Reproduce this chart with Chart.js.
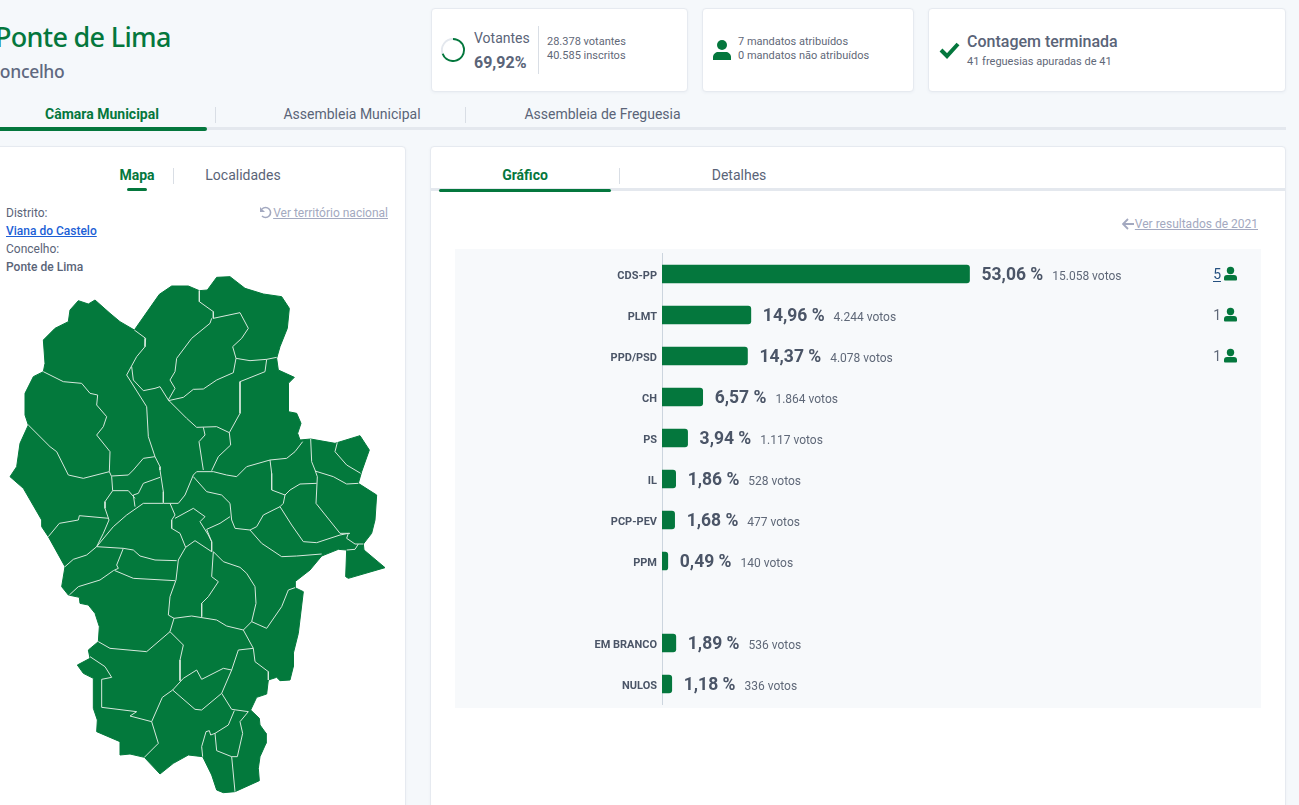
<!DOCTYPE html>
<html lang="pt">
<head>
<meta charset="utf-8">
<title>Ponte de Lima</title>
<script src="https://cdn.jsdelivr.net/npm/chart.js@4"></script>
<style>
  html, body { margin: 0; padding: 0; }
  body { width: 1299px; height: 805px; position: relative; overflow: hidden; background: #f5f8fb; font-family: Roboto, sans-serif; color: #5a6478; }
  .abs, canvas { position: absolute; }
  .abs { white-space: nowrap; line-height: 1; }
  .card { position: absolute; background: #fff; border: 1px solid #e6eaf0; border-radius: 4px; box-sizing: border-box; box-shadow: 0 1px 3px rgba(60,80,110,.05); }
  .small { font-size: 11px; color: #5f6878; }
  .green { color: #04773d; font-weight: 700; }
  .tab { font-size: 14px; transform: translateX(-50%); }
  .div { position: absolute; width: 1px; background: #d9dee5; }
  .bar { position: absolute; }
  a { text-decoration: underline; }
</style>
</head>
<body>
<div class="abs" style="left:-5px;top:18px;font:500 27px 'Noto Sans';color:#04773d;letter-spacing:-.7px">Ponte de Lima</div>
<div class="abs" style="left:-11px;top:59px;font:500 17.5px 'Noto Sans';color:#5f6880;letter-spacing:-.3px">Concelho</div>

<div class="card" style="left:431px;top:8px;width:257px;height:84px"></div>
<div class="card" style="left:702px;top:8px;width:212px;height:84px"></div>
<div class="card" style="left:928px;top:8px;width:358px;height:84px"></div>

<canvas id="turnoutGauge" width="24" height="24" style="left:441px;top:38px"></canvas>
<div class="abs" style="left:474px;top:31px;font-size:14px">Votantes</div>
<div class="abs" style="left:474px;top:55px;font-size:16px;font-weight:700">69,92%</div>
<div class="div" style="left:538px;top:26px;height:48px"></div>
<div class="abs small" style="left:547px;top:36px">28.378 votantes</div>
<div class="abs small" style="left:547px;top:50px">40.585 inscritos</div>

<svg class="abs" style="left:713px;top:40px" width="18" height="20" viewBox="0 0 18 20"><circle cx="9" cy="5" r="5" fill="#04773d"/><path d="M0 20v-3c0-3 3-5 5-5h8c2 0 5 2 5 5v3z" fill="#04773d"/></svg>
<div class="abs small" style="left:738px;top:36px">7 mandatos atribuídos</div>
<div class="abs small" style="left:738px;top:50px">0 mandatos não atribuídos</div>

<svg class="abs" style="left:939px;top:41px" width="21" height="18" viewBox="0 0 21 18"><path d="M2 9l6 6L19 3" fill="none" stroke="#04773d" stroke-width="4"/></svg>
<div class="abs" style="left:967px;top:34px;font-size:16px;font-weight:500">Contagem terminada</div>
<div class="abs small" style="left:967px;top:56px">41 freguesias apuradas de 41</div>

<div class="abs tab green" style="left:102px;top:107px">Câmara Municipal</div>
<div class="div" style="left:215px;top:107px;height:16px"></div>
<div class="abs tab" style="left:352px;top:107px">Assembleia Municipal</div>
<div class="div" style="left:465px;top:107px;height:16px"></div>
<div class="abs tab" style="left:602.5px;top:107px">Assembleia de Freguesia</div>
<div class="bar" style="left:0;top:127px;width:1286px;height:3px;background:#e4e8ee"></div>
<div class="bar" style="left:0;top:127px;width:207px;height:4px;background:#04773d;border-radius:0 2px 2px 0"></div>

<div class="card" style="left:-10px;top:146px;width:416px;height:700px"></div>
<div class="abs tab green" style="left:137px;top:168px">Mapa</div>
<div class="div" style="left:173px;top:168px;height:16px"></div>
<div class="abs tab" style="left:243px;top:168px">Localidades</div>
<div class="bar" style="left:127px;top:188px;width:20px;height:3px;background:#04773d;border-radius:2px"></div>
<div class="abs" style="left:6px;top:207px;font-size:12px">Distrito:</div>
<a class="abs" style="left:6px;top:225px;font-size:12px;font-weight:500;color:#1d5fd6">Viana do Castelo</a>
<div class="abs" style="left:6px;top:243px;font-size:12px">Concelho:</div>
<div class="abs" style="left:6px;top:261px;font-size:12px;font-weight:500">Ponte de Lima</div>
<svg class="abs" style="left:259px;top:206px" width="13" height="13" viewBox="0 0 13 13"><path d="M3 3a5 5 0 1 1 0 7" fill="none" stroke="#a3a9c0" stroke-width="1.6"/><path d="M1 1v5h5z" fill="#a3a9c0"/></svg>
<a class="abs" style="right:911px;top:207px;font-size:12px;color:#a3a9c0">Ver território nacional</a>
<canvas id="mapChart" width="405" height="535" style="left:0;top:270px"></canvas>

<div class="card" style="left:430px;top:146px;width:856px;height:700px"></div>
<div class="abs tab green" style="left:525px;top:168px">Gráfico</div>
<div class="div" style="left:619px;top:168px;height:16px"></div>
<div class="abs tab" style="left:739px;top:168px">Detalhes</div>
<div class="bar" style="left:431px;top:188px;width:854px;height:3px;background:#e4e8ee"></div>
<div class="bar" style="left:439px;top:189px;width:172px;height:3px;background:#04773d;border-radius:2px"></div>
<svg class="abs" style="left:1122px;top:218px" width="12" height="12" viewBox="0 0 12 12"><path d="M6 1L1 6l5 5M1 6h11" fill="none" stroke="#a3a9c0" stroke-width="1.8"/></svg>
<a class="abs" style="right:41px;top:218px;font-size:12px;color:#a3a9c0">Ver resultados de 2021</a>

<div class="bar" style="left:455px;top:249px;width:806px;height:459px;background:#f7f9fb"></div>
<canvas id="resultsChart" width="806" height="459" style="left:455px;top:249px"></canvas>

<script>
const parties = ["CDS-PP", "PLMT", "PPD/PSD", "CH", "PS", "IL", "PCP-PEV", "PPM", "", "EM BRANCO", "NULOS"];
const percents = [53.06, 14.96, 14.37, 6.57, 3.94, 1.86, 1.68, 0.49, null, 1.89, 1.18];
const votes = ["15.058", "4.244", "4.078", "1.864", "1.117", "528", "477", "140", "", "536", "336"];
const mandates = [5, 1, 1, null, null, null, null, null, null, null, null];
const turnout = [69.92, 30.08];

// map, in map units (1/3 px)
const mapOutline = [
  [403,540],[478,433],[515,408],[565,408],[598,422],[622,420],[650,382],[690,380],[735,415],[790,432],[845,440],[868,475],[862,535],[840,590],[830,625],[835,660],[883,682],[865,700],[865,785],[890,790],[903,820],[893,850],[900,870],[932,867],[1005,880],[1080,857],[1108,900],[1085,965],
  [1075,1000],[1130,1035],[1125,1110],[1115,1150],[1090,1182],[1092,1200],[1155,1253],[1045,1285],[1037,1280],[1040,1200],[1015,1198],[965,1218],[930,1260],[885,1295],[885,1313],[910,1325],[895,1450],[880,1510],[880,1550],[870,1590],[840,1592],[830,1582],[805,1590],[800,1632],[770,1642],[752,1680],[778,1705],[780,1725],[798,1750],[798,1780],[780,1820],[775,1855],[778,1892],[705,1925],[670,1928],[650,1920],[635,1875],[608,1820],[565,1815],[520,1840],[480,1872],[433,1822],[390,1812],[360,1815],[360,1775],[290,1745],[292,1710],[280,1675],[280,1585],[250,1570],[232,1545],[270,1525],[265,1500],[295,1475],[298,1430],[285,1390],[265,1365],[240,1360],[238,1342],[205,1335],[185,1310],[195,1250],[145,1160],[125,1130],[125,1110],[70,1015],[30,980],
  [50,950],[60,880],[85,825],[75,795],[75,730],[100,680],[130,665],[135,640],[130,570],[165,535],[205,515],[210,480],[235,452],[265,462],[285,450],[330,490],[360,515],[403,540]
];
const mapBorders = [
  [[403,540],[437,565],[435,590],[410,620],[380,675],[440,770],[445,860],[465,920],[480,950],[480,960],[490,1025],[490,1058]],
  [[130,665],[190,695],[245,700],[270,730],[293,735],[290,765],[320,800],[310,830],[290,855],[330,905],[328,965],[250,985],[205,975],[170,905],[150,890],[85,825]],
  [[328,965],[335,980],[338,1022],[315,1055],[315,1075],[327,1110],[310,1150],[290,1190]],
  [[335,978],[385,975],[400,960],[430,925],[465,920]],
  [[598,422],[598,455],[640,485],[640,505],[720,488],[745,535],[725,565],[698,590],[708,625],[750,632],[800,628],[830,622]],
  [[635,505],[630,520],[575,565],[530,625],[525,665],[510,690],[525,715],[505,750]],
  [[395,650],[400,690],[430,722],[465,715],[480,710],[505,750]],
  [[708,625],[700,668],[650,690],[610,717],[580,718],[550,742],[505,752]],
  [[800,628],[795,665],[720,695],[720,790],[688,848],[650,830],[590,832],[560,805],[505,750]],
  [[688,848],[692,885],[655,920],[635,962]],
  [[610,832],[615,855],[597,875],[610,960]],
  [[932,867],[935,935],[945,960],[952,980],[948,1060],[1020,1150],[1050,1150]],
  [[1012,877],[1005,905],[1040,945],[1082,970]],
  [[908,875],[885,905],[860,925],[810,930],[740,950],[710,980],[680,975],[640,965],[590,965],[580,975],[555,1035],[535,1060],[490,1060],[430,1060],[380,1095],[340,1130],[290,1190]],
  [[810,930],[815,970],[815,1020],[855,1035]],
  [[950,1000],[900,1002],[870,1020],[855,1035],[850,1060],[840,1070],[790,1095],[770,1130],[750,1140],[705,1135],[695,1110],[690,1060],[665,1035],[620,1025],[580,980]],
  [[945,963],[1000,980],[1040,1002],[1075,1000]],
  [[840,1070],[875,1125],[910,1175],[950,1178],[1020,1155],[1045,1150],[1040,1165],[1065,1182],[1090,1182]],
  [[1040,1200],[1065,1198],[1075,1182]],
  [[750,1140],[785,1180],[845,1220],[890,1218],[965,1212]],
  [[690,1100],[660,1120],[620,1138],[635,1175],[635,1205]],
  [[510,1060],[525,1095],[515,1110],[515,1135],[540,1150],[557,1192],[585,1172],[635,1205]],
  [[525,1105],[580,1075],[615,1100],[600,1115],[625,1155],[635,1175]],
  [[557,1192],[535,1230],[528,1290],[510,1340],[505,1395],[522,1405],[510,1445],[440,1505],[330,1495],[295,1475]],
  [[522,1405],[575,1398],[650,1410],[680,1428],[730,1440],[755,1415],[768,1360],[765,1310],[740,1270],[720,1252],[670,1235],[640,1205],[635,1280],[655,1295],[625,1340],[605,1360],[605,1400]],
  [[755,1415],[800,1435],[845,1370],[865,1320],[885,1313]],
  [[730,1440],[760,1495],[715,1500],[695,1560],[665,1630],[605,1680],[585,1678],[518,1620],[550,1585],[590,1560],[605,1588],[670,1555],[695,1560]],
  [[510,1445],[550,1485],[540,1530],[540,1592]],
  [[760,1495],[765,1535],[805,1565],[805,1590]],
  [[518,1620],[487,1642],[455,1715],[475,1780],[433,1822]],
  [[455,1715],[390,1698],[410,1685],[305,1672],[305,1588],[335,1582],[315,1550],[270,1520]],
  [[665,1630],[695,1678],[745,1685],[720,1715],[728,1750],[712,1820],[695,1820],[650,1802],[645,1750],[685,1725],[703,1682]],
  [[695,1820],[705,1925]],
  [[645,1750],[632,1755],[628,1742],[618,1745],[605,1790],[608,1820]],
  [[290,1190],[370,1195],[400,1200],[420,1218],[465,1230],[530,1232]],
  [[290,1190],[260,1215],[220,1228],[195,1250]],
  [[370,1195],[350,1245],[355,1255],[340,1262],[300,1290],[235,1310],[208,1335]],
  [[345,1262],[400,1285],[525,1292]],
  [[145,1160],[178,1120],[235,1110],[238,1097],[327,1105]],
  [[405,1070],[400,1035],[415,1030],[430,1000],[480,982]],
  [[338,1022],[385,1022],[405,1045]]
];

const green = "#04773d";

new Chart(document.getElementById("turnoutGauge"), {
  type: "doughnut",
  data: { datasets: [{ data: turnout, backgroundColor: [green, "#e4e8ee"], borderWidth: 0 }] },
  options: {
    responsive: false,
    animation: false,
    cutout: "84%",
    plugins: { legend: { display: false }, tooltip: { enabled: false } },
  },
});

const toPoints = (line) => line.map((p) => ({ x: p[0], y: p[1] }));

new Chart(document.getElementById("mapChart"), {
  type: "scatter",
  data: {
    // first dataset is painted last, so the filled outline goes at the end
    datasets: [
      ...mapBorders.map((line) => ({ data: toPoints(line), showLine: true, borderColor: "#d6e8dc", borderWidth: 1, pointRadius: 0 })),
      { data: toPoints(mapOutline), showLine: true, fill: "shape", backgroundColor: "#03793c", borderColor: "#03793c", borderWidth: 1, pointRadius: 0 },
    ],
  },
  options: {
    responsive: false,
    animation: false,
    layout: { padding: 0 },
    plugins: { legend: { display: false }, tooltip: { enabled: false } },
    scales: {
      x: { display: false, min: 0, max: 1215 },
      y: { display: false, min: 360, max: 1965, reverse: true },
    },
  },
});

function drawPerson(ctx, x, y) {
  ctx.fillStyle = green;
  ctx.beginPath();
  ctx.arc(x, y - 3.5, 3.7, 0, Math.PI * 2);
  ctx.fill();
  ctx.beginPath();
  ctx.roundRect(x - 6.5, y + 1, 13, 5.5, [3, 3, 1, 1]);
  ctx.fill();
}

// percent + votes beside each bar, mandates at the far right
const rowLabels = {
  id: "rowLabels",
  afterDatasetsDraw(chart) {
    const ctx = chart.ctx;
    const bars = chart.getDatasetMeta(0).data;
    ctx.save();
    ctx.textBaseline = "alphabetic";
    percents.forEach((v, i) => {
      if (v === null) return;
      const bar = bars[i];
      const pct = v.toFixed(2).replace(".", ",") + " %";
      ctx.textAlign = "left";
      ctx.font = "700 17.5px Roboto";
      ctx.fillStyle = "#4b5567";
      ctx.fillText(pct, bar.x + 12, bar.y + 6);
      const w = ctx.measureText(pct).width;
      ctx.font = "12px Roboto";
      ctx.fillStyle = "#5f6878";
      ctx.fillText(votes[i] + " votos", bar.x + 12 + w + 9, bar.y + 6);
      if (mandates[i] !== null) {
        ctx.font = "14px Roboto";
        ctx.textAlign = "right";
        const linked = mandates[i] > 1;
        ctx.fillStyle = linked ? "#24507f" : "#5f6878";
        ctx.fillText(String(mandates[i]), 766, bar.y + 5);
        if (linked) ctx.fillRect(758, bar.y + 7, 8, 1);
        drawPerson(ctx, 775.5, bar.y);
      }
    });
    ctx.restore();
  },
};

new Chart(document.getElementById("resultsChart"), {
  type: "bar",
  data: {
    labels: parties,
    datasets: [{ data: percents, base: -0.52, backgroundColor: green, barThickness: 18, borderRadius: 3 }],
  },
  options: {
    indexAxis: "y",
    responsive: false,
    animation: false,
    layout: { padding: { top: 4.5, bottom: 3.5, left: 0, right: 0 } },
    plugins: { legend: { display: false }, tooltip: { enabled: false } },
    scales: {
      x: { display: false, min: -0.52, max: 103.85 },
      y: {
        afterFit(scale) { scale.width = 207; scale.paddingTop = 0; scale.paddingBottom = 0; },
        grid: { display: false, drawTicks: false },
        border: { display: true, color: "#ccd5de", width: 1 },
        ticks: { autoSkip: false, padding: 5, labelOffset: 2, color: "#4b5567", font: { family: "Roboto", size: 11, weight: "700" } },
      },
    },
  },
  plugins: [rowLabels],
});
</script>
</body>
</html>
